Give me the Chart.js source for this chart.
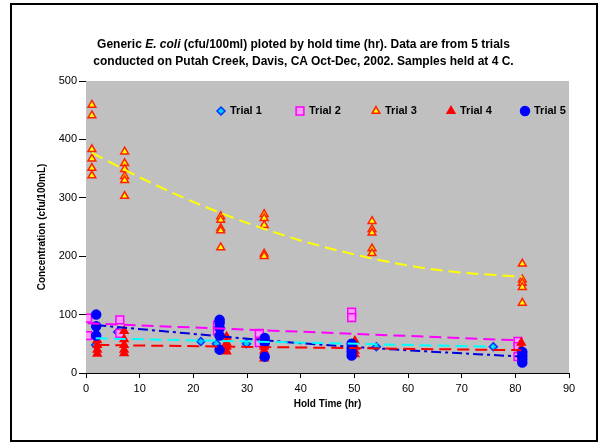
<!DOCTYPE html>
<html>
<head>
<meta charset="utf-8">
<script src="https://cdn.jsdelivr.net/npm/chart.js@4.4.1/dist/chart.umd.min.js"></script>
<style>
    body { margin: 0; background: #fff; }
    #wrap { position: relative; width: 602px; height: 444px; }
    #frame { position: absolute; left: 10px; top: 3px; width: 584px; height: 435px; border: 2px solid #000; pointer-events: none; }
    #title { position: absolute; left: 11px; width: 585px; top: 36px; text-align: center;
             font: bold 12px "Liberation Sans", Arial, sans-serif; line-height: 17px; color: #000; }
</style>
</head>
<body>
<div id="wrap">
    <canvas id="myChart" width="602" height="444"></canvas>
    <div id="frame"></div>
    <div id="title">Generic <i>E. coli</i> (cfu/100ml) ploted by hold time (hr). Data are from 5 trials<br>conducted on Putah Creek, Davis, CA Oct-Dec, 2002. Samples held at 4 C.</div>
</div>
<script>
// data
const trialNames = ['Trial 1', 'Trial 2', 'Trial 3', 'Trial 4', 'Trial 5'];

const trial1X = [1.8, 5.9, 21.4, 24.3, 29.9, 54.1, 75.9];
const trial1Y = [48, 70, 54, 50, 50, 45, 45];

const trial2X = [0.3, 0.3, 6.3, 6.3, 24.5, 24.5, 32.3, 32.3, 49.5, 49.5, 80.5, 80.5, 80.5];
const trial2Y = [94, 64, 91, 68, 82, 72, 68, 52, 104, 95, 54, 45, 28];

const trial3X = [1.1, 1.1, 1.1, 1.1, 1.1, 1.1, 7.2, 7.2, 7.2, 7.2, 7.2, 7.2,
                 25.1, 25.1, 25.1, 25.1, 25.1, 33.2, 33.2, 33.2, 33.2, 33.2,
                 53.3, 53.3, 53.3, 53.3, 53.3, 81.3, 81.3, 81.3, 81.3, 81.3];
const trial3Y = [459, 441, 383, 367, 351, 338, 379, 359, 349, 337, 330, 303,
                 268, 262, 248, 244, 215, 272, 265, 253, 204, 200,
                 260, 246, 240, 213, 205, 187, 160, 154, 147, 120];

const trial4X = [2.1, 2.1, 2.1, 2.1, 7.1, 7.1, 7.1, 7.1, 7.1, 26.2, 26.2, 26.2, 26.2,
                 33.2, 33.2, 33.2, 33.2, 50.1, 50.1, 50.1, 50.1, 81.1, 81.1];
const trial4Y = [56, 48, 40, 33, 72, 58, 48, 40, 34, 62, 52, 45, 37,
                 45, 38, 30, 25, 55, 45, 38, 32, 52, 42];

const trial5X = [1.9, 1.9, 1.9, 24.9, 24.9, 24.9, 24.9, 24.9, 33.3, 33.3, 33.3,
                 49.5, 49.5, 49.5, 49.5, 81.3, 81.3, 81.3, 81.3];
const trial5Y = [100, 80, 64, 91, 86, 77, 64, 40, 60, 52, 28,
                 50, 43, 37, 30, 36, 30, 24, 18];

// trend lines
const trend1X = [1.8, 75.9];
const trend1Y = [59.5, 45];
const trend2X = [0.3, 80.5];
const trend2Y = [85, 56];
const trend3X = [1.1, 10, 20, 30, 40, 50, 60, 70, 81.3];
const trend3Y = [377, 335, 293, 257, 227, 203, 184, 172, 165];
const trend4X = [2.1, 81.1];
const trend4Y = [48, 39];
const trend5X = [1.9, 20, 40, 58, 81.3];
const trend5Y = [82, 67, 51, 40, 28];

const xTicks = [0, 10, 20, 30, 40, 50, 60, 70, 80, 90];
const yTicks = [0, 100, 200, 300, 400, 500];

function pts(xs, ys) {
    return xs.map((x, i) => ({ x: x, y: ys[i] }));
}

function markers(label, xs, ys, style, fill, stroke, radius, order) {
    return {
        label: label,
        data: pts(xs, ys),
        pointStyle: style,
        pointRadius: radius,
        backgroundColor: fill,
        borderColor: stroke,
        borderWidth: 1.5,
        showLine: false,
        order: order
    };
}

function trend(xs, ys, color, dash, smooth) {
    return {
        label: 'trend',
        data: pts(xs, ys),
        showLine: true,
        pointRadius: 0,
        borderColor: color,
        borderWidth: 2,
        borderDash: dash,
        tension: smooth ? 0.4 : 0,
        cubicInterpolationMode: smooth ? 'monotone' : 'default',
        fill: false,
        order: 0
    };
}

const datasets = [
    markers(trialNames[0], trial1X, trial1Y, 'rectRot', '#00CCFF', '#0033FF', 4, 5),
    markers(trialNames[1], trial2X, trial2Y, 'rect', '#FF99FF', '#FF00FF', 5.5, 4),
    markers(trialNames[2], trial3X, trial3Y, 'triangle', '#FFFF00', '#FF2200', 4.5, 3),
    markers(trialNames[3], trial4X, trial4Y, 'triangle', '#FF0000', '#FF0000', 4.5, 2),
    markers(trialNames[4], trial5X, trial5Y, 'circle', '#0000FF', '#0000FF', 4.5, 1),
    trend(trend1X, trend1Y, '#00FFFF', [12, 6], false),
    trend(trend2X, trend2Y, '#FF00FF', [12, 6], false),
    trend(trend3X, trend3Y, '#FFFF00', [12, 6], true),
    trend(trend4X, trend4Y, '#FF0000', [12, 6], false),
    trend(trend5X, trend5Y, '#0000DD', [10, 4, 3, 4], true)
];

// gray plot area
const plotBg = {
    id: 'plotBg',
    beforeDatasetsDraw(chart) {
        const a = chart.chartArea;
        const ctx = chart.ctx;
        ctx.save();
        ctx.fillStyle = '#C0C0C0';
        ctx.fillRect(a.left, a.top, a.right - a.left, a.bottom - a.top);
        ctx.restore();
    }
};

// legend sits inside the plot area
const insideLegend = {
    id: 'insideLegend',
    afterDraw(chart) {
        const ctx = chart.ctx;
        const xs = [221, 300, 376, 451, 525];
        const y = 111;
        ctx.save();
        ctx.font = 'bold 11px "Liberation Sans", Arial, sans-serif';
        ctx.textBaseline = 'middle';
        ctx.textAlign = 'left';
        for (let i = 0; i < trialNames.length; i++) {
            const ds = chart.data.datasets[i];
            ctx.fillStyle = ds.backgroundColor;
            ctx.strokeStyle = ds.borderColor;
            ctx.lineWidth = ds.borderWidth;
            Chart.helpers.drawPoint(ctx, {
                pointStyle: ds.pointStyle, radius: ds.pointRadius, rotation: 0, borderWidth: ds.borderWidth
            }, xs[i], y);
            ctx.fillStyle = '#000';
            ctx.fillText(trialNames[i], xs[i] + 9, y);
        }
        ctx.restore();
    }
};

const ctx = document.getElementById('myChart').getContext('2d');
const myChart = new Chart(ctx, {
    type: 'scatter',
    data: { datasets: datasets },
    plugins: [plotBg, insideLegend],
    options: {
        responsive: false,
        animation: false,
        devicePixelRatio: 1,
        layout: { padding: { left: 36, right: 33, top: 81, bottom: 34 } },
        plugins: { legend: { display: false }, tooltip: { enabled: false } },
        scales: {
            x: {
                type: 'linear',
                min: 0, max: 90,
                afterFit: (scale) => { scale.height = 37; },
                afterBuildTicks: (scale) => { scale.ticks = xTicks.map(v => ({ value: v })); },
                ticks: { color: '#000', padding: 4, font: { family: '"Liberation Sans", Arial', size: 11 } },
                grid: { drawOnChartArea: false, drawTicks: true, tickLength: 5, color: '#000' },
                border: { color: '#000', width: 1 },
                title: { display: true, text: 'Hold Time (hr)', color: '#000', padding: 0,
                         font: { family: '"Liberation Sans", Arial', size: 10, weight: 'bold' } }
            },
            y: {
                type: 'linear',
                min: 0, max: 500,
                afterFit: (scale) => { scale.width = 50; },
                afterBuildTicks: (scale) => { scale.ticks = yTicks.map(v => ({ value: v })); },
                ticks: { color: '#000', padding: 2, font: { family: '"Liberation Sans", Arial', size: 11 } },
                grid: { drawOnChartArea: false, drawTicks: true, tickLength: 7, color: '#000' },
                border: { color: '#000', width: 1 },
                title: { display: true, text: 'Concentration (cfu/100mL)', color: '#000', padding: 0,
                         font: { family: '"Liberation Sans", Arial', size: 10, weight: 'bold' } }
            }
        }
    }
});
</script>
</body>
</html>
